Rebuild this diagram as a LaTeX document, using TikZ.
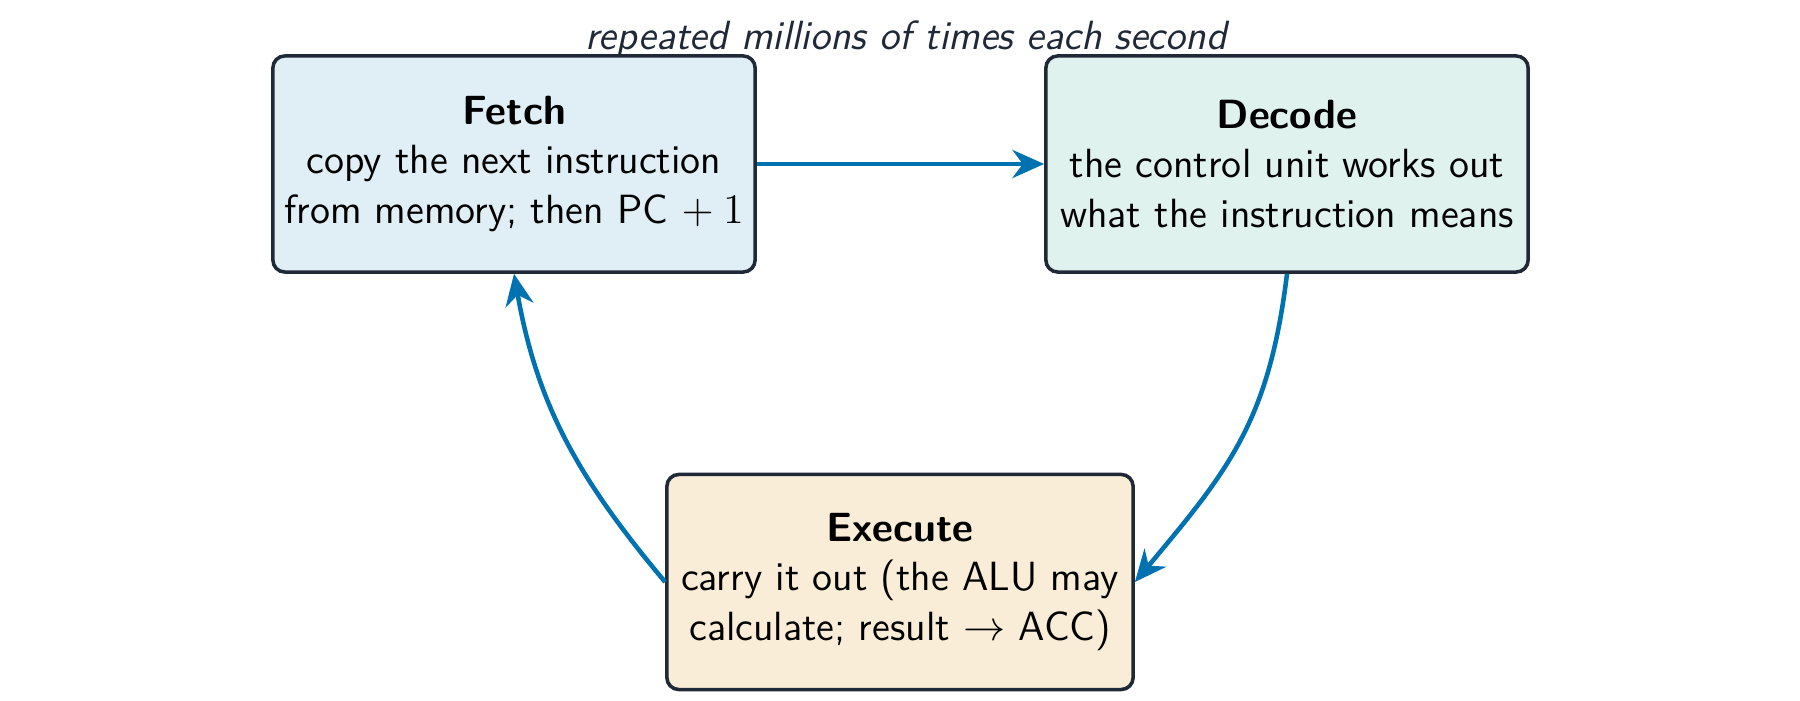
\documentclass[tikz,border=0pt]{standalone}
\usepackage{fontspec}
\usetikzlibrary{arrows.meta}
\definecolor{edgec}{HTML}{1F2937}
\definecolor{fetchc}{HTML}{E0EEF5}
\definecolor{decodec}{HTML}{DFF2EE}
\definecolor{execc}{HTML}{FAEDD7}
\definecolor{arrowc}{HTML}{0072B2}
\tikzset{
  stage/.style={draw=edgec, line width=1pt, rounded corners=0.12cm, align=center,
    font=\sffamily\fontsize{11.6}{14.2}\selectfont, text=black, inner sep=0pt},
  flow/.style={draw=arrowc, line width=1.3pt, -{Stealth[length=9pt,width=8pt]}},
}
\begin{document}
\begin{tikzpicture}[x=0.01cm, y=-0.01cm]
\useasboundingbox (0,0) rectangle (1800,701);
\node[stage, fill=fetchc, minimum width=4.82cm, minimum height=2.16cm] (fetch) at (514,164)
  {\textbf{Fetch}\\copy the next instruction\\from memory; then PC ${+}\mskip\medmuskip 1$};
\node[stage, fill=decodec, minimum width=4.82cm, minimum height=2.16cm] (decode) at (1287,164)
  {\textbf{Decode}\\the control unit works out\\what the instruction means};
\node[stage, fill=execc, minimum width=4.66cm, minimum height=2.15cm] (exec) at (900,582)
  {\textbf{Execute}\\carry it out (the ALU may\\calculate; result $\rightarrow$ ACC)};
\node[font=\sffamily\itshape\fontsize{11.6}{14}\selectfont, text=edgec] (title) at (906,39) {repeated millions of times each second};
\draw[flow] (fetch.east) -- (decode.west);
\draw[flow] (decode.south) to[out=-97, in=50, looseness=1.1] (exec.east);
\draw[flow] (exec.west) to[out=130, in=-80] (fetch.south);
\end{tikzpicture}
\end{document}
